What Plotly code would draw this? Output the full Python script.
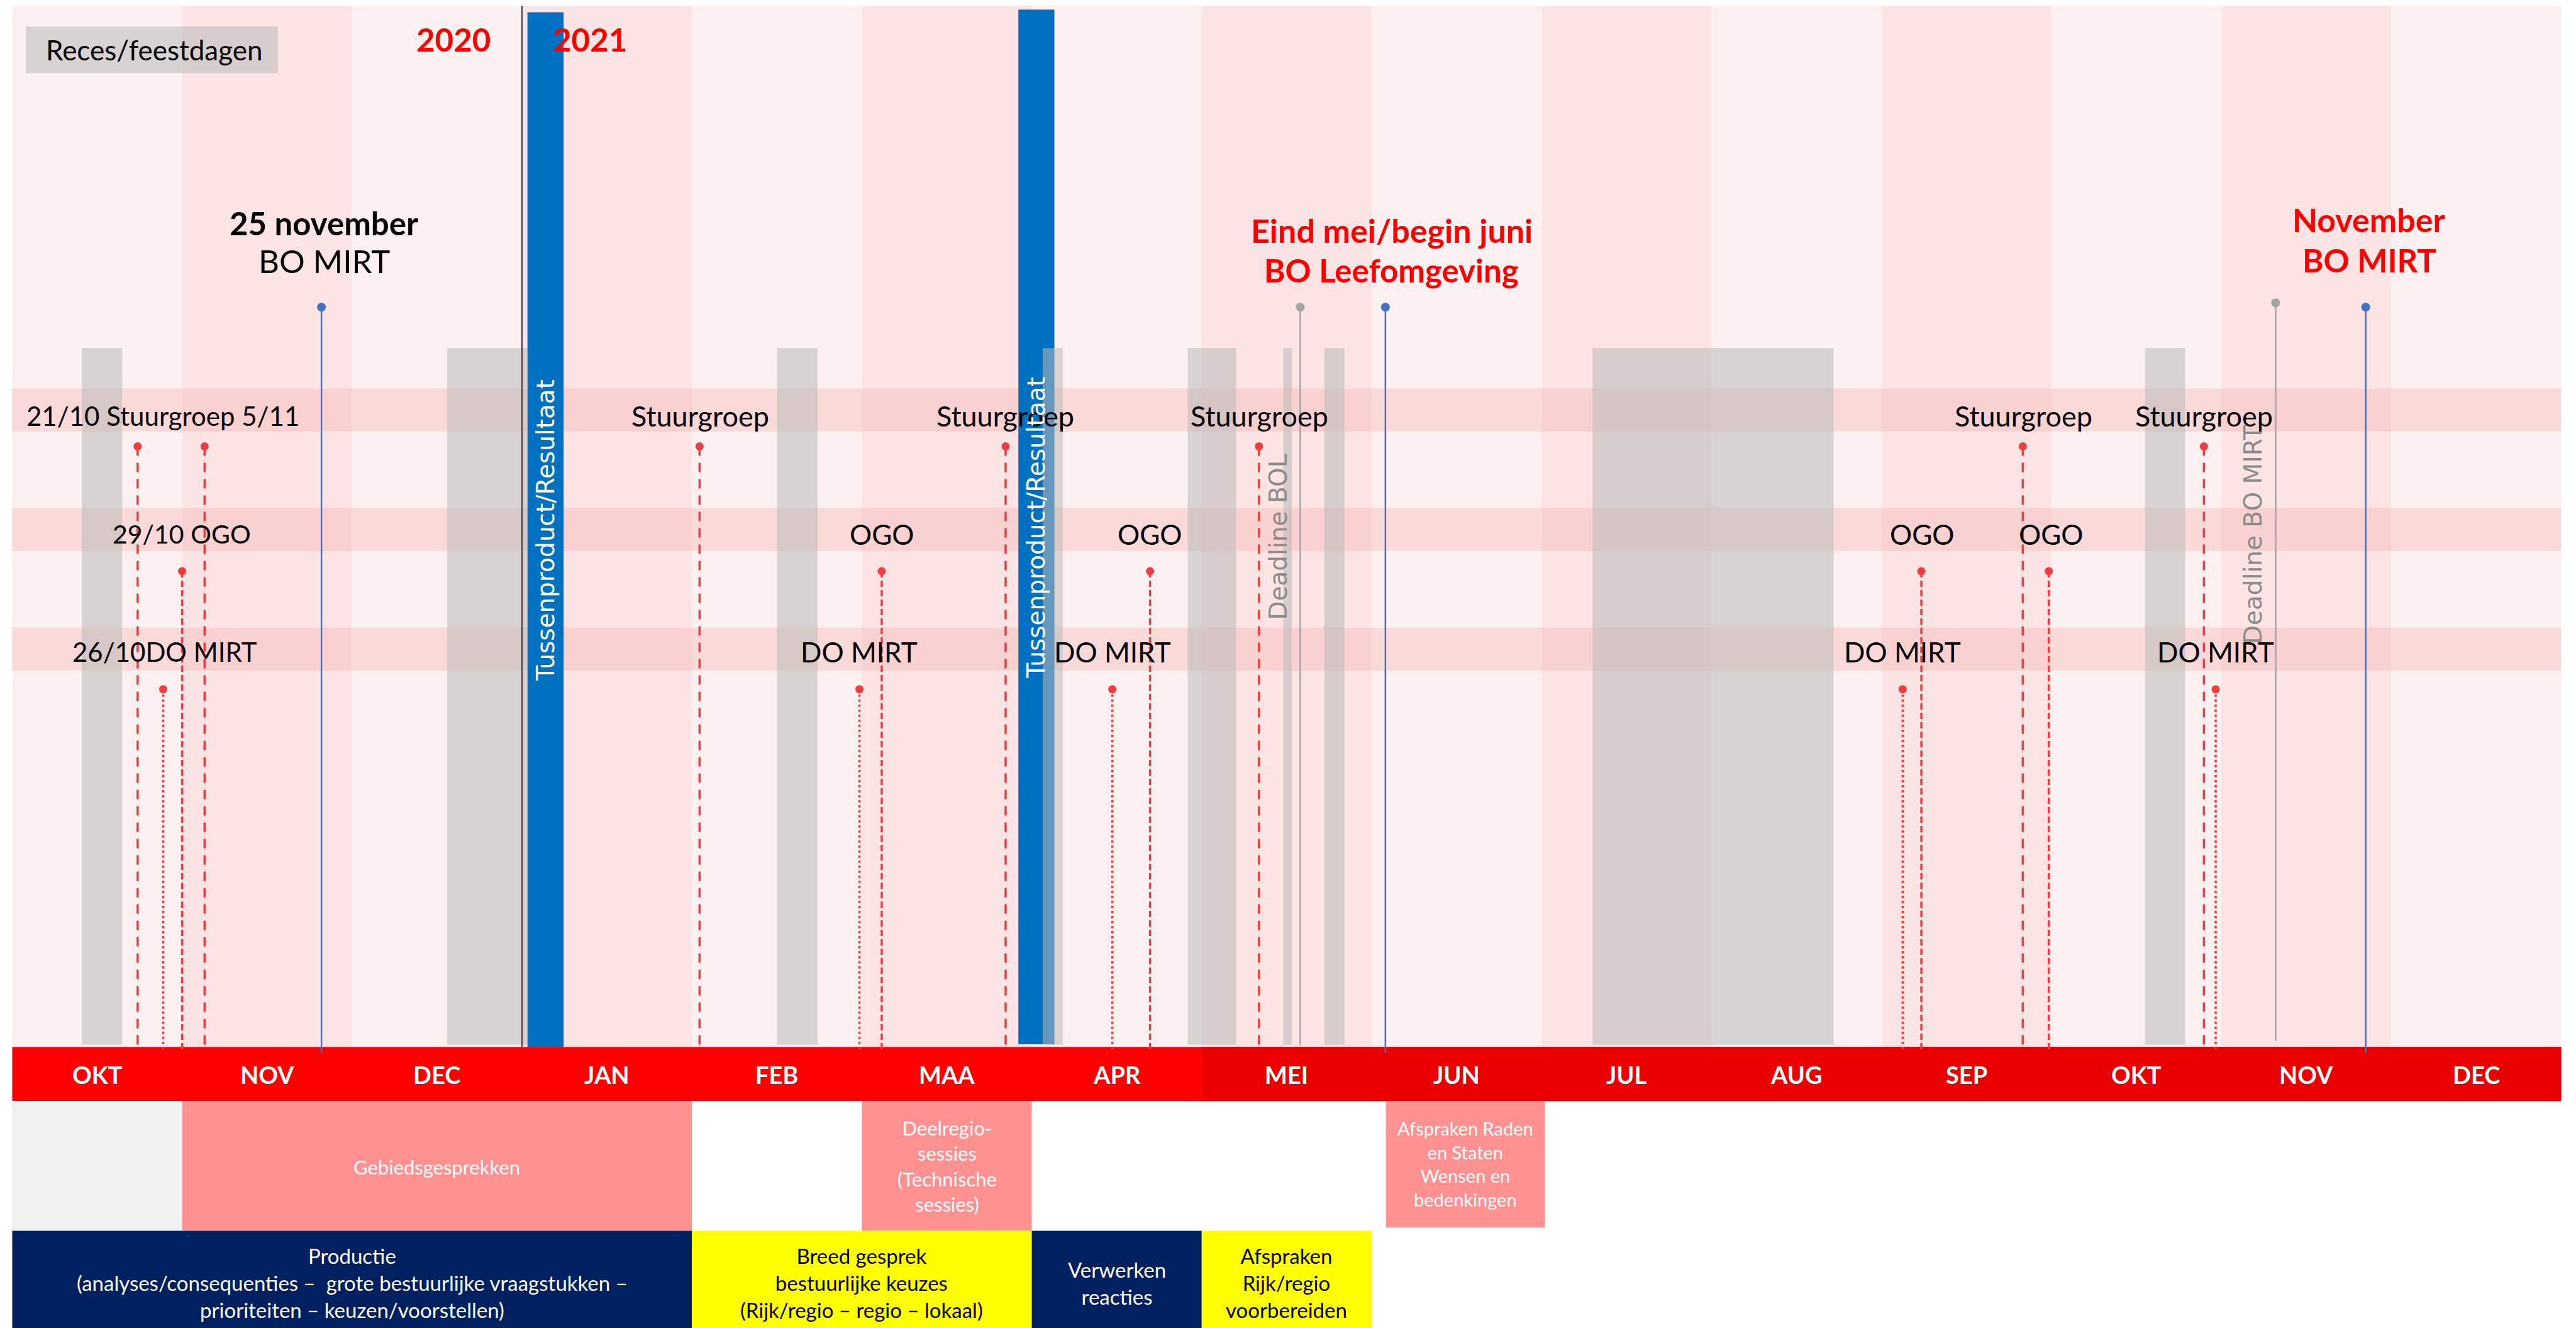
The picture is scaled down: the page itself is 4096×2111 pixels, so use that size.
import plotly.graph_objects as go

# ------------------------------------------------------------------ data
# x positions are in months since 1 Oct 2020 (0 = start of OKT 2020, 15 = end of DEC 2021)
months = ["OKT", "NOV", "DEC", "JAN", "FEB", "MAA", "APR", "MEI",
          "JUN", "JUL", "AUG", "SEP", "OKT", "NOV", "DEC"]
years = ["2020", "2021"]
year_x = [2.595, 3.398]
year_boundary = [3.0]

recess_start = [0.410, 2.560, 4.501, 6.064, 6.918, 7.480, 7.721, 9.300, 12.551]
recess_end = [0.647, 3.032, 4.739, 6.183, 7.202, 7.530, 7.840, 10.719, 12.788]
recess_label = "Reces/feestdagen"

product_start = [3.032, 5.921]
product_end = [3.245, 6.133]
product_label = "Tussenproduct/Resultaat"

stuurgroep_x = [0.738, 1.132, 4.045, 5.846, 7.337, 11.832, 12.898]
stuurgroep_label_x = [0.885, 4.048, 5.846, 7.340, 11.835, 12.898]
stuurgroep_labels = ["21/10 Stuurgroep 5/11", "Stuurgroep", "Stuurgroep",
                     "Stuurgroep", "Stuurgroep", "Stuurgroep"]

ogo_x = [1.000, 5.117, 6.696, 11.235, 11.985]
ogo_label_x = [0.999, 5.117, 6.696, 11.241, 11.998]
ogo_labels = ["29/10 OGO", "OGO", "OGO", "OGO", "OGO"]

domirt_x = [0.888, 4.986, 6.474, 11.125, 12.967]
domirt_label_x = [0.896, 4.983, 6.477, 11.125, 12.967]
domirt_labels = ["26/10DO MIRT", "DO MIRT", "DO MIRT", "DO MIRT", "DO MIRT"]

bo_x = [1.820, 8.081, 13.850]
bo_titles = ["25 november", "Eind mei/begin juni", "November"]
bo_subtitles = ["BO MIRT", "BO Leefomgeving", "BO MIRT"]

deadline_x = [7.580, 13.320]
deadline_labels = ["Deadline BOL", "Deadline BO MIRT"]

phase1_labels = ["", "Gebiedsgesprekken",
                 "Deelregio-<br>sessies<br>(Technische<br>sessies)",
                 "Afspraken Raden<br>en Staten<br>Wensen en<br>bedenkingen"]
phase1_start = [0, 1, 5, 8.084]
phase1_end = [1, 4, 6, 9.02]

phase2_labels = ["Productie<br>(analyses/consequenties –  grote bestuurlijke vraagstukken –<br>prioriteiten – keuzen/voorstellen)",
                 "Breed gesprek<br>bestuurlijke keuzes<br>(Rijk/regio – regio – lokaal)",
                 "Verwerken<br>reacties",
                 "Afspraken<br>Rijk/regio<br>voorbereiden"]
phase2_start = [0, 4, 6, 7]
phase2_end = [4, 6, 7, 8]

# ------------------------------------------------------------------ styles / layout
W, H = 4096, 2111
REF_H = 2499                      # vertical layout units (top = 0)
XMIN, XMAX = -0.0719, 15.0875

LATO = "Lato, 'Open Sans', sans-serif"
VERD = "'DejaVu Sans', Verdana, sans-serif"

COL_LIGHT = "#FDF0F0"
COL_DARK = "#FCE4E4"
BAND = "rgba(245,165,165,0.30)"
GRAY = "rgba(185,185,185,0.55)"
BLUE_BAR = "#0070C0"
RED_LINE = "#F03C3C"
BLUE_LINE = "#4472C4"
GRAY_LINE = "#A5A5A5"
NAVY = "#002060"
YELLOW = "#FFFF00"
SALMON = "#FF9191"

TOP = 11
MB_TOP, MB_BOT = 1970, 2072
ROW1_BOT = 2316
bands = [(731, 812), (956, 1037), (1181, 1262)]

phase1_colors = ["#F0F0F0", SALMON, SALMON, SALMON]
phase1_bottom = [ROW1_BOT, ROW1_BOT, ROW1_BOT, 2310]
phase1_text_y = [2196, 2196, 2194, 2190]
phase1_size = [32, 31, 31, 29]
phase2_colors = [NAVY, YELLOW, NAVY, YELLOW]
phase2_text = ["white", "black", "white", "black"]

shapes = []
def rect(x0, x1, y0, y1, color, layer="below"):
    shapes.append(dict(type="rect", xref="x", yref="y", x0=x0, x1=x1, y0=y0, y1=y1,
                       fillcolor=color, line=dict(width=0), layer=layer))

for i in range(len(months)):
    rect(i, i + 1, TOP, MB_TOP, COL_LIGHT if i % 2 == 0 else COL_DARK)
for y0, y1 in bands:
    rect(0, 15, y0, y1, BAND)
for s, e, top, bot in zip(product_start, product_end, [23, 18], [1970, 1965]):
    rect(s, e, top, bot, BLUE_BAR)
for s, e in zip(recess_start, recess_end):
    rect(s, e, 655, 1966, GRAY)
rect(0.081, 1.563, 50, 137.5, GRAY)
for xb in year_boundary:
    shapes.append(dict(type="line", xref="x", yref="y", x0=xb, x1=xb, y0=TOP, y1=MB_TOP,
                       line=dict(color="#404040", width=2), layer="below"))
rect(0, 15, MB_TOP, MB_BOT, "#FF0000")
rect(7, 15, MB_TOP, MB_BOT, "#EB0000")
for s, e, c, b in zip(phase1_start, phase1_end, phase1_colors, phase1_bottom):
    rect(s, e, MB_BOT, b, c)
for s, e, c in zip(phase2_start, phase2_end, phase2_colors):
    rect(s, e, ROW1_BOT, REF_H, c)

fig = go.Figure()

def stems(xs, top, bottom, color, width, dash, msize, name):
    lx, ly = [], []
    for x in xs:
        lx += [x, x, None]
        ly += [top, bottom, None]
    fig.add_trace(go.Scatter(x=lx, y=ly, mode="lines", name=name, hoverinfo="skip",
                             line=dict(color=color, width=width, dash=dash)))
    fig.add_trace(go.Scatter(x=xs, y=[top] * len(xs), mode="markers", name=name,
                             marker=dict(color=color, size=msize, line=dict(width=0))))

stems(stuurgroep_x, 840, 1975, RED_LINE, 3.5, "15px,11px", 13, "Stuurgroep")
stems(ogo_x, 1075, 1975, RED_LINE, 3.5, "10px,5px", 13, "OGO")
stems(domirt_x, 1297, 1975, RED_LINE, 3.5, "4px,4px", 13, "DO MIRT")
stems(bo_x, 578, 1981, BLUE_LINE, 2.5, "solid", 14, "BO")
stems(deadline_x[:1], 578, 1967, GRAY_LINE, 2.5, "solid", 14, "Deadline")
stems(deadline_x[1:], 570, 1959, GRAY_LINE, 2.5, "solid", 14, "Deadline")

ann = []
def text(x, y, t, size, color="black", font=LATO, bold=False, angle=0):
    if bold:
        t = "<b>" + t + "</b>"
    ann.append(dict(x=x, y=y, xref="x", yref="y", text=t, showarrow=False,
                    xanchor="center", yanchor="middle", textangle=angle,
                    font=dict(family=font, size=size, color=color)))

text(0.835, 94, recess_label, 44)
for x, y in zip(year_x, years):
    text(x, 74, y, 51, "#FF0000", bold=True)
for i, (x, t) in enumerate(zip(stuurgroep_label_x, stuurgroep_labels)):
    text(x, 782, t, 42 if i == 0 else 45)
for i, (x, t) in enumerate(zip(ogo_label_x, ogo_labels)):
    text(x, 1005, t, 41 if i == 0 else 44)
for i, (x, t) in enumerate(zip(domirt_label_x, domirt_labels)):
    text(x, 1227, t, 42 if i == 0 else 44)
title_col = ["black", "#FF0000", "#FF0000"]
sub_bold = [False, True, True]
title_x = [1.835, 8.118, 13.870]
for i in range(3):
    text(title_x[i], [420, 433, 413][i], bo_titles[i], 52 if i else 51, title_col[i], bold=True)
    text(title_x[i], [491, 509, 489][i], bo_subtitles[i], 51, title_col[i], bold=sub_bold[i])
for s, e, y in zip(product_start, product_end, [997, 993]):
    text((s + e) / 2, y, product_label, 39, "white", VERD, angle=-90)
for x, t, y in zip(deadline_x, deadline_labels, [1010, 1006]):
    text(x - 0.13, y, t, 39, "#8C8C8C", VERD, angle=-90)
for i, m in enumerate(months):
    text(i + 0.5, 2022, m, 38, "white", bold=True)
for t, s, e, y, sz in zip(phase1_labels, phase1_start, phase1_end, phase1_text_y, phase1_size):
    if t:
        text((s + e) / 2, y, t, sz, "white")
for t, s, e, c in zip(phase2_labels, phase2_start, phase2_end, phase2_text):
    text((s + e) / 2, 2414, t, 33, c)

fig.update_layout(
    width=W, height=H, margin=dict(l=0, r=0, t=0, b=0),
    paper_bgcolor="white", plot_bgcolor="white", showlegend=False,
    xaxis=dict(range=[XMIN, XMAX], visible=False, showgrid=False, zeroline=False),
    yaxis=dict(range=[REF_H, 0], visible=False, showgrid=False, zeroline=False),
    shapes=shapes, annotations=ann,
)
fig.write_html("out.html", config={"displayModeBar": False},
               post_script="document.body.style.margin='0';")
